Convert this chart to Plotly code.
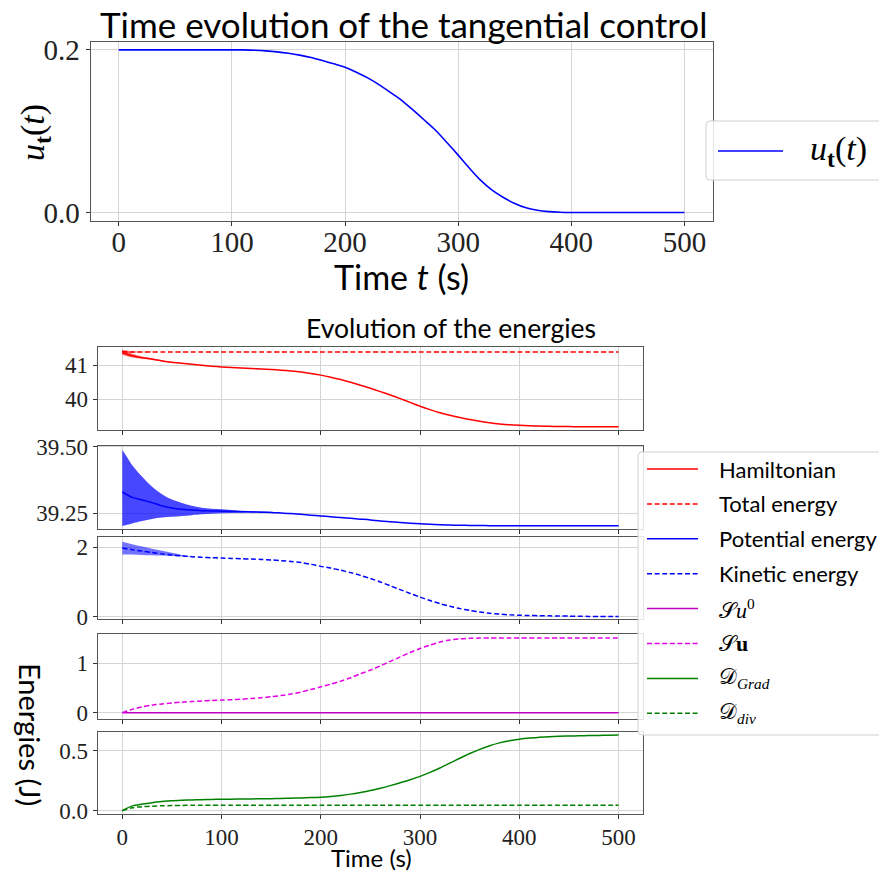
import plotly.graph_objects as go

W, H = 887, 871
OFF = 8                      # default page margin of the html body
FW, FH = W - OFF, H - OFF    # figure size so that the figure fills the window

# ---------------- data ----------------
t = [0, 10, 20, 30, 40, 50, 60, 70, 80, 90, 100, 110, 120, 130, 140, 150, 160, 170, 180, 190,
     200, 210, 220, 230, 240, 250, 260, 270, 280, 290, 300, 310, 320, 330, 340, 350, 360, 370,
     380, 390, 400, 410, 420, 430, 440, 450, 460, 470, 480, 490, 500]

u_t = [0.2, 0.2, 0.2, 0.2, 0.2, 0.2, 0.2, 0.2, 0.2, 0.2, 0.2, 0.1999, 0.1995, 0.1987, 0.1975,
       0.1958, 0.1935, 0.1905, 0.1868, 0.1828, 0.1787, 0.1725, 0.1655, 0.1572, 0.1478, 0.138,
       0.1262, 0.1138, 0.1012, 0.0862, 0.0706, 0.0545, 0.0395, 0.0275, 0.0185, 0.0112, 0.0058,
       0.0028, 0.0011, 0.0003, 0.0, 0.0, 0.0, 0.0, 0.0, 0.0, 0.0, 0.0, 0.0, 0.0, 0.0]

hamiltonian = [41.36, 41.27, 41.21, 41.17, 41.12, 41.08, 41.05, 41.02, 40.99, 40.965, 40.945,
               40.93, 40.915, 40.90, 40.885, 40.87, 40.85, 40.825, 40.795, 40.755, 40.705,
               40.645, 40.575, 40.495, 40.41, 40.32, 40.225, 40.125, 40.02, 39.91, 39.80,
               39.70, 39.61, 39.535, 39.47, 39.41, 39.36, 39.315, 39.28, 39.255, 39.24, 39.228,
               39.219, 39.212, 39.207, 39.204, 39.202, 39.201, 39.20, 39.20, 39.20]

total_energy = [41.39, 41.38, 41.38, 41.38, 41.38, 41.38, 41.38, 41.38, 41.38, 41.38, 41.38,
                41.38, 41.38, 41.38, 41.38, 41.38, 41.38, 41.38, 41.38, 41.38, 41.38, 41.38,
                41.38, 41.38, 41.38, 41.38, 41.38, 41.38, 41.38, 41.38, 41.38, 41.38, 41.38,
                41.38, 41.38, 41.38, 41.38, 41.38, 41.38, 41.38, 41.38, 41.38, 41.38, 41.38,
                41.38, 41.38, 41.38, 41.38, 41.38, 41.38, 41.38]

potential = [39.33, 39.31, 39.30, 39.29, 39.278, 39.27, 39.265, 39.262, 39.26, 39.259, 39.258,
             39.257, 39.256, 39.255, 39.254, 39.253, 39.251, 39.249, 39.246, 39.243, 39.240,
             39.237, 39.234, 39.231, 39.228, 39.225, 39.221, 39.218, 39.215, 39.213, 39.211,
             39.209, 39.207, 39.206, 39.205, 39.2045, 39.204, 39.2035, 39.203, 39.203, 39.203,
             39.203, 39.203, 39.203, 39.203, 39.203, 39.203, 39.203, 39.203, 39.203, 39.203]

kinetic = [1.98, 1.93, 1.89, 1.85, 1.81, 1.78, 1.75, 1.73, 1.71, 1.70, 1.69, 1.68, 1.67, 1.66,
           1.65, 1.635, 1.615, 1.59, 1.56, 1.51, 1.45, 1.40, 1.34, 1.27, 1.19, 1.10, 1.00, 0.89,
           0.78, 0.67, 0.565, 0.465, 0.375, 0.30, 0.235, 0.18, 0.135, 0.10, 0.075, 0.055, 0.042,
           0.035, 0.03, 0.025, 0.02, 0.016, 0.012, 0.009, 0.006, 0.004, 0.003]

su0 = [0.0, 0.0, 0.0, 0.0, 0.0, 0.0, 0.0, 0.0, 0.0, 0.0, 0.0, 0.0, 0.0, 0.0, 0.0, 0.0, 0.0,
       0.0, 0.0, 0.0, 0.0, 0.0, 0.0, 0.0, 0.0, 0.0, 0.0, 0.0, 0.0, 0.0, 0.0, 0.0, 0.0, 0.0,
       0.0, 0.0, 0.0, 0.0, 0.0, 0.0, 0.0, 0.0, 0.0, 0.0, 0.0, 0.0, 0.0, 0.0, 0.0, 0.0, 0.0]

su = [0.0, 0.07, 0.12, 0.155, 0.18, 0.20, 0.215, 0.228, 0.24, 0.25, 0.257, 0.265, 0.275, 0.29,
      0.305, 0.324, 0.35, 0.38, 0.42, 0.47, 0.526, 0.58, 0.64, 0.71, 0.79, 0.864, 0.95, 1.04,
      1.13, 1.22, 1.30, 1.37, 1.43, 1.47, 1.495, 1.505, 1.51, 1.51, 1.51, 1.51, 1.51, 1.51,
      1.51, 1.51, 1.51, 1.51, 1.51, 1.51, 1.51, 1.51, 1.51]

d_grad = [0.0, 0.04, 0.055, 0.067, 0.076, 0.083, 0.087, 0.09, 0.092, 0.094, 0.095, 0.096,
          0.097, 0.098, 0.099, 0.10, 0.102, 0.104, 0.106, 0.109, 0.113, 0.119, 0.127, 0.138,
          0.152, 0.168, 0.187, 0.209, 0.233, 0.258, 0.286, 0.319, 0.356, 0.396, 0.437, 0.476,
          0.511, 0.541, 0.565, 0.583, 0.596, 0.605, 0.611, 0.616, 0.62, 0.622, 0.624, 0.626,
          0.627, 0.628, 0.63]

d_div = [0.0, 0.025, 0.033, 0.038, 0.041, 0.043, 0.044, 0.045, 0.045, 0.045, 0.045, 0.045,
         0.045, 0.045, 0.045, 0.045, 0.045, 0.045, 0.045, 0.045, 0.045, 0.045, 0.045, 0.045,
         0.045, 0.045, 0.045, 0.045, 0.045, 0.045, 0.045, 0.045, 0.045, 0.045, 0.045, 0.045,
         0.045, 0.045, 0.045, 0.045, 0.045, 0.045, 0.045, 0.045, 0.045, 0.045, 0.045, 0.045,
         0.045, 0.045, 0.045]

# envelopes of the fast early oscillations
t_env_ham = [0, 10, 20, 30, 40, 50]
ham_upper = [41.43, 41.33, 41.25, 41.20, 41.14, 41.09]
ham_lower = [41.29, 41.22, 41.18, 41.15, 41.11, 41.075]

t_env_tot = [0, 10, 20, 30]
tot_upper = [41.44, 41.41, 41.39, 41.385]
tot_lower = [41.33, 41.35, 41.37, 41.38]

t_env_pot = [0, 5, 10, 20, 30, 40, 50, 60, 70, 80, 100, 120, 140, 160]
pot_upper = [39.488, 39.46, 39.431, 39.387, 39.35, 39.322, 39.302, 39.289, 39.278, 39.271,
             39.265, 39.26, 39.257, 39.255]
pot_lower = [39.202, 39.207, 39.212, 39.221, 39.229, 39.234, 39.237, 39.24, 39.243, 39.246,
             39.25, 39.252, 39.253, 39.254]

t_env_kin = [0, 10, 20, 30, 40, 50, 60, 70]
kin_upper = [2.16, 2.09, 2.02, 1.96, 1.90, 1.84, 1.78, 1.74]
kin_lower = [1.79, 1.79, 1.78, 1.77, 1.76, 1.75, 1.74, 1.73]

x_ticks = [0, 100, 200, 300, 400, 500]

# ---------------- styling ----------------
SANS = "Lato"
SERIF = "Liberation Serif"
RED, BLUE, MAG, MAG2, GREEN = "#ff0000", "#0000ff", "#bf00bf", "#e600e6", "#008000"
DASH = "5px,2.6px"
GRID = "#d4d4d4"
FRAME = "#555555"


def px(x):
    return (x - OFF) / FW


def py(y):
    return 1 - (y - OFF) / FH


fig = go.Figure()

panels = {
    "top": ((90.5, 712.7), (41.7, 220.7)),
    "e1": ((97.5, 643.4), (346.7, 430.0)),
    "e2": ((97.5, 643.4), (445.7, 529.0)),
    "e3": ((97.5, 643.4), (536.7, 619.3)),
    "e4": ((97.5, 643.4), (634.3, 719.0)),
    "e5": ((97.5, 643.4), (731.7, 814.3)),
}
axis_ids = {"top": "", "e1": "2", "e2": "3", "e3": "4", "e4": "5", "e5": "6"}
yranges = {
    "top": [-0.01, 0.21],
    "e1": [39.105, 41.534],
    "e2": [39.191, 39.504],
    "e3": [-0.075, 2.305],
    "e4": [-0.125, 1.587],
    "e5": [-0.03, 0.658],
}
yticks = {
    "top": ([0.0, 0.2], ["0.0", "0.2"]),
    "e1": ([40, 41], ["40", "41"]),
    "e2": ([39.25, 39.5], ["39.25", "39.50"]),
    "e3": ([0, 2], ["0", "2"]),
    "e4": ([0, 1], ["0", "1"]),
    "e5": ([0.0, 0.5], ["0.0", "0.5"]),
}

layout = {}
for name, ((x0, x1), (y0, y1)) in panels.items():
    i = axis_ids[name]
    big = name == "top"
    tfs = 29 if big else 23
    common = dict(
        ticks="outside", ticklen=4, tickcolor="#333", tickwidth=1,
        showgrid=True, gridcolor=GRID, gridwidth=1,
        showline=True, linecolor=FRAME, linewidth=1, mirror=True,
        zeroline=False, automargin=False,
        tickfont=dict(family=SERIF, size=tfs, color="#222"),
    )
    layout["xaxis" + i] = dict(
        domain=[px(x0), px(x1)], range=[-25, 525], anchor="y" + i,
        tickvals=x_ticks, ticktext=[str(v) for v in x_ticks],
        showticklabels=(name in ("top", "e5")),
        ticklabelstandoff=(-9 if big else -2), **common)
    tv, tt = yticks[name]
    layout["yaxis" + i] = dict(
        domain=[py(y1), py(y0)], range=yranges[name], anchor="x" + i,
        tickvals=tv, ticktext=tt, **common)


def line(x, y, ax, color, dash="solid", width=1.5):
    i = axis_ids[ax]
    fig.add_trace(go.Scatter(
        x=x, y=y, mode="lines", xaxis="x" + i, yaxis="y" + i, showlegend=False,
        line=dict(color=color, width=width, dash=dash, shape="spline", smoothing=0.8),
        hoverinfo="skip"))


def band(x, lo, hi, ax, rgba):
    i = axis_ids[ax]
    fig.add_trace(go.Scatter(x=x, y=hi, mode="lines", xaxis="x" + i, yaxis="y" + i,
                             line=dict(width=0, shape="spline"), showlegend=False,
                             hoverinfo="skip"))
    fig.add_trace(go.Scatter(x=x, y=lo, mode="lines", xaxis="x" + i, yaxis="y" + i,
                             line=dict(width=0, shape="spline"), fill="tonexty",
                             fillcolor=rgba, showlegend=False, hoverinfo="skip"))


line(t, u_t, "top", BLUE, width=1.6)

band(t_env_tot, tot_lower, tot_upper, "e1", "rgba(255,0,0,0.55)")
band(t_env_ham, ham_lower, ham_upper, "e1", "rgba(255,0,0,0.55)")
line(t, hamiltonian, "e1", RED)
line(t, total_energy, "e1", RED, dash=DASH)

band(t_env_pot, pot_lower, pot_upper, "e2", "rgba(0,0,255,0.72)")
line(t, potential, "e2", BLUE)

band(t_env_kin, kin_lower, kin_upper, "e3", "rgba(0,0,255,0.55)")
line(t, kinetic, "e3", BLUE, dash=DASH)

line(t, su0, "e4", MAG)
line(t, su, "e4", MAG2, dash=DASH)

line(t, d_grad, "e5", GREEN)
line(t, d_div, "e5", GREEN, dash=DASH)

# ---------------- texts ----------------
ann = []


def text(x, y, s, size, family=SANS, angle=0, xanchor="center", color="#000"):
    ann.append(dict(x=px(x), y=py(y), xref="paper", yref="paper", text=s, showarrow=False,
                    xanchor=xanchor, yanchor="middle", textangle=angle,
                    font=dict(family=family, size=size, color=color)))


text(403, 24, "Time evolution of the tangential control", 35)
text(401, 276, "Time <i>t</i> (s)", 34)
text(35, 133, "<i>u</i><sub><b>t</b></sub>(<i>t</i>)", 34, family=SERIF, angle=-90)
text(451, 328, "Evolution of the energies", 26.5)
text(371, 857, "Time (s)", 24)
text(31, 734, "Energies (J)", 29, angle=90)

# ---------------- legends (drawn) ----------------
shapes = []


def rounded_box(x0, y0, x1, y1, r=4):
    pts = (f"M{px(x0 + r)},{py(y0)} L{px(x1 - r)},{py(y0)} "
           f"Q{px(x1)},{py(y0)} {px(x1)},{py(y0 + r)} L{px(x1)},{py(y1 - r)} "
           f"Q{px(x1)},{py(y1)} {px(x1 - r)},{py(y1)} L{px(x0 + r)},{py(y1)} "
           f"Q{px(x0)},{py(y1)} {px(x0)},{py(y1 - r)} L{px(x0)},{py(y0 + r)} "
           f"Q{px(x0)},{py(y0)} {px(x0 + r)},{py(y0)} Z")
    shapes.append(dict(type="path", path=pts, xref="paper", yref="paper",
                       line=dict(color="#d0d0d0", width=1), fillcolor="rgba(255,255,255,0.85)",
                       layer="above"))


def legend_line(x0, x1, y, color, dash):
    shapes.append(dict(type="line", xref="paper", yref="paper", x0=px(x0), x1=px(x1),
                       y0=py(y), y1=py(y), line=dict(color=color, width=1.5, dash=dash),
                       layer="above"))


rounded_box(706, 121, 885, 180)
legend_line(718, 783, 151, BLUE, "solid")
text(808, 151, "<i>u</i><sub><b>t</b></sub>(<i>t</i>)", 34, family=SERIF, xanchor="left")

legend_items = [
    ("Hamiltonian", RED, "solid", SANS),
    ("Total energy", RED, DASH, SANS),
    ("Potential energy", BLUE, "solid", SANS),
    ("Kinetic energy", BLUE, DASH, SANS),
    ("𝒮<i>u</i><sup>0</sup>", MAG, "solid", SERIF),
    ("𝒮<b>u</b>", MAG2, DASH, SERIF),
    ("𝒟<sub><i>Grad</i></sub>", GREEN, "solid", SERIF),
    ("𝒟<sub><i>div</i></sub>", GREEN, DASH, SERIF),
]
rounded_box(638, 452, 885, 735)
for k, (lab, col, dsh, fam) in enumerate(legend_items):
    yy = 469 + k * 34.9
    legend_line(647, 698, yy, col, dsh)
    text(717, yy, lab, 22, family=fam, xanchor="left")

fig.update_layout(
    width=FW, height=FH, margin=dict(l=0, r=0, t=0, b=0, autoexpand=False),
    paper_bgcolor="white", plot_bgcolor="white",
    showlegend=False, annotations=ann, shapes=shapes, **layout)

fig.write_html("out.html")
